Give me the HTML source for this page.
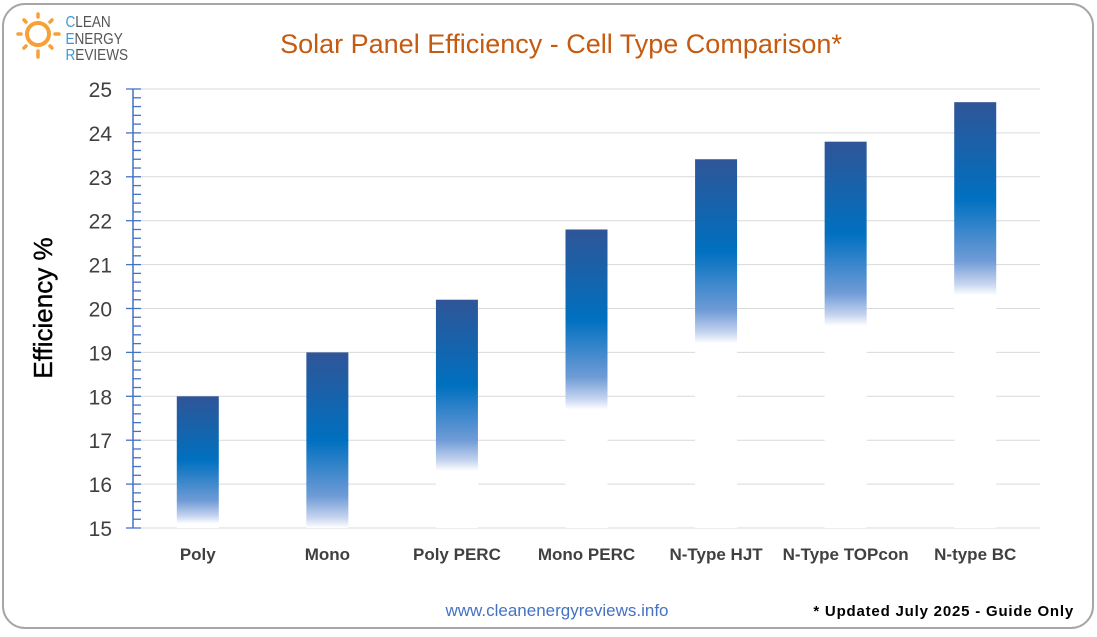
<!DOCTYPE html>
<html><head><meta charset="utf-8"><style>
body{margin:0;background:#fff;font-family:"Liberation Sans",sans-serif}
</style></head><body>
<svg width="1097" height="632" viewBox="0 0 1097 632">
<rect x="3" y="4" width="1090" height="624" rx="22" fill="#fff" stroke="#a6a6a6" stroke-width="2"/>
<g>
<circle cx="38" cy="34" r="11" fill="none" stroke="#f7a035" stroke-width="4"/>
<g stroke="#f7a035" stroke-width="3.5" stroke-linecap="round">
<line x1="38" y1="14" x2="38" y2="17"/><line x1="38" y1="51" x2="38" y2="57"/>
<line x1="18" y1="34" x2="21" y2="34"/><line x1="55" y1="34" x2="59" y2="34"/>
<line x1="24" y1="20" x2="26" y2="22"/><line x1="50" y1="22" x2="52" y2="20"/>
<line x1="24" y1="48" x2="26" y2="46"/><line x1="50" y1="46" x2="52" y2="48"/>
</g>
<text font-size="16" fill="#555" transform="scale(0.85,1)">
<tspan x="77" y="27"><tspan fill="#3a9ad9">C</tspan>LEAN</tspan>
<tspan x="77" y="44"><tspan fill="#3a9ad9">E</tspan>NERGY</tspan>
<tspan x="77" y="60"><tspan fill="#3a9ad9">R</tspan>EVIEWS</tspan></text>
</g>
<text x="561" y="53" text-anchor="middle" font-size="27" fill="#c55a11">Solar Panel Efficiency - Cell Type Comparison*</text>
<text transform="translate(52,308) rotate(-90)" text-anchor="middle" font-size="26" fill="#000" stroke="#000" stroke-width="0.4">Efficiency %</text>
<g id="plot"></g>
<text x="557" y="616" text-anchor="middle" font-size="17" fill="#4472c4">www.cleanenergyreviews.info</text>
<text x="1074" y="616" text-anchor="end" font-size="15" font-weight="bold" fill="#000" letter-spacing="0.8">* Updated July 2025 - Guide Only</text>
</svg>
<script>
const categories=["Poly","Mono","Poly PERC","Mono PERC","N-Type HJT","N-Type TOPcon","N-type BC"];
const topValues=[18.0,19.0,20.2,21.8,23.4,23.8,24.7];
const fadeValues=[15.1,15.0,16.3,17.7,19.2,19.6,20.3];
const yTicks=[15,16,17,18,19,20,21,22,23,24,25];
const NS="http://www.w3.org/2000/svg";
const g=document.getElementById('plot');
const X0=133,X1=1040,Y0=528,Y1=89,ymin=15,ymax=25;
const y=v=>Y0-(v-ymin)/(ymax-ymin)*(Y0-Y1);
const band=(X1-X0)/categories.length;
const x=i=>X0+band*(i+0.5);
function mk(t,a){const e=document.createElementNS(NS,t);for(const k in a)e.setAttribute(k,a[k]);g.appendChild(e);return e;}
const defs=mk('defs',{});
yTicks.forEach(v=>{
 const l=mk('line',{x1:X0,x2:X1,y1:y(v),y2:y(v),stroke:'#d9d9d9','stroke-width':1});
 
 
 const t=mk('text',{x:112,y:y(v)+8,'text-anchor':'end','font-size':21,fill:'#404040'});
 t.textContent=v;
 
 
});
for(let v=ymin;v<=ymax+0.001;v+=0.2){
 const major=Math.abs(v-Math.round(v))<0.01;
 mk('line',{x1:major?126:X0,x2:X0+8,y1:y(v),y2:y(v),stroke:'#4472c4','stroke-width':1.3});
}
const ax=mk('line',{x1:X0,x2:X0,y1:Y1,y2:Y0,stroke:'#4472c4','stroke-width':1.5});


categories.forEach((c,i)=>{
 const gid='grad'+i;
 const lg=document.createElementNS(NS,'linearGradient');
 lg.setAttribute('id',gid);lg.setAttribute('gradientUnits','userSpaceOnUse');
 lg.setAttribute('x1',0);lg.setAttribute('x2',0);lg.setAttribute('y1',y(topValues[i]));lg.setAttribute('y2',y(fadeValues[i]));
 [[0,'#2f5597'],[0.5,'#0070c0'],[0.82,'#6f9bd6'],[0.94,'#c5d4ef'],[1,'#ffffff']].forEach(s=>{
  const st=document.createElementNS(NS,'stop');st.setAttribute('offset',s[0]);st.setAttribute('stop-color',s[1]);lg.appendChild(st);});
 defs.appendChild(lg);
 const w=42;
 const r=mk('rect',{x:x(i)-w/2,y:y(topValues[i]),width:w,height:y(ymin)-y(topValues[i]),fill:'url(#'+gid+')'});
 
 
 const t=mk('text',{x:x(i),y:560,'text-anchor':'middle','font-size':17,'font-weight':'bold',fill:'#404040'});
 t.textContent=c;
 
 
});
</script>
</body></html>
